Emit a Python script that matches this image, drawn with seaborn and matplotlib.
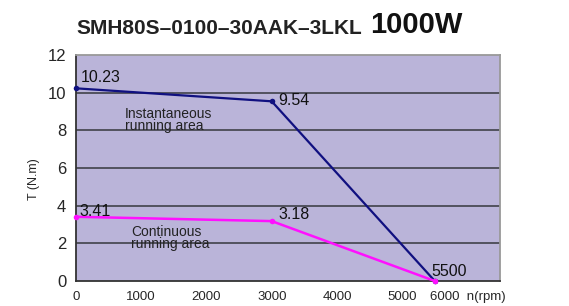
import matplotlib
matplotlib.use("Agg")
import matplotlib.pyplot as plt
import seaborn as sns
import pandas as pd

speed_inst = [0, 3000, 5500]
torque_inst = [10.23, 9.54, 0]
speed_cont = [0, 3000, 5500]
torque_cont = [3.41, 3.18, 0]
inst_labels = ["10.23", "9.54", "5500"]
cont_labels = ["3.41", "3.18"]
x_ticks = [0, 1000, 2000, 3000, 4000, 5000, 6000]
y_ticks = [0, 2, 4, 6, 8, 10, 12]

sns.set_style("white")
plt.rcParams['font.family'] = ['Liberation Sans', 'DejaVu Sans']

fig = plt.figure(figsize=(5.69, 3.06), dpi=100)
ax = fig.add_axes([0.1336, 0.0817, 0.7452, 0.7386])
ax.set_facecolor('#bab4d9')

for yv in y_ticks[1:-1]:
    ax.axhline(yv, color='#4a4a55', lw=1.3, zorder=1)

df_i = pd.DataFrame({'n': speed_inst, 'T': torque_inst})
df_c = pd.DataFrame({'n': speed_cont, 'T': torque_cont})
sns.lineplot(data=df_i, x='n', y='T', ax=ax, color='#101080', lw=1.6,
             marker='o', markersize=4, markeredgewidth=0, zorder=3, clip_on=False)
sns.lineplot(data=df_c, x='n', y='T', ax=ax, color='#ff10ff', lw=1.8,
             marker='o', markersize=4, markeredgewidth=0, zorder=3, clip_on=False)

ax.set_xlim(0, 6500)
ax.set_ylim(0, 12)
ax.set_xticks(x_ticks)
ax.set_yticks(y_ticks)
ax.set_xticklabels([str(t) for t in x_ticks[:-1]] + ["6000  n(rpm)"], fontsize=9.5)
ax.set_yticklabels([str(t) for t in y_ticks], fontsize=12)
ax.tick_params(axis='x', direction='in', length=4, width=1, color='#333333', pad=7)
ax.tick_params(axis='y', length=0, pad=7)
ax.set_xlabel('')
ax.set_ylabel('T (N.m)', fontsize=9)
ax.yaxis.set_label_coords(-0.085, 0.45)

for s in ['left', 'bottom']:
    ax.spines[s].set_color('#333333')
    ax.spines[s].set_linewidth(1.3)
for s in ['top', 'right']:
    ax.spines[s].set_color('#999999')
    ax.spines[s].set_linewidth(1.3)

fs = 11.5
ax.text(speed_inst[0] + 80, torque_inst[0] + 0.15, inst_labels[0], fontsize=fs, ha='left', va='bottom', color='#111111')
ax.text(speed_inst[1] + 100, torque_inst[1] - 0.35, inst_labels[1], fontsize=fs, ha='left', va='bottom', color='#111111')
ax.text(speed_inst[2] - 60, torque_inst[2] + 0.1, inst_labels[2], fontsize=fs, ha='left', va='bottom', color='#111111')
ax.text(speed_cont[0] + 60, torque_cont[0] - 0.1, cont_labels[0], fontsize=fs, ha='left', va='bottom', color='#111111')
ax.text(speed_cont[1] + 100, torque_cont[1] - 0.05, cont_labels[1], fontsize=fs, ha='left', va='bottom', color='#111111')

ax.text(750, 8.55, "Instantaneous\nrunning area", fontsize=10, ha='left', va='center', linespacing=0.8, color='#222222')
ax.text(840, 2.3, "Continuous\nrunning area", fontsize=10, ha='left', va='center', linespacing=0.8, color='#222222')

fig.text(76/569, 1 - 29/306, "SMH80S–0100–30AAK–3LKL", fontsize=15, fontweight='bold', ha='left', va='center', color='#222222')
fig.text(370/569, 1 - 25/306, "1000W", fontsize=21, fontweight='bold', ha='left', va='center', color='#111111')

fig.savefig('out.png', dpi=100)
